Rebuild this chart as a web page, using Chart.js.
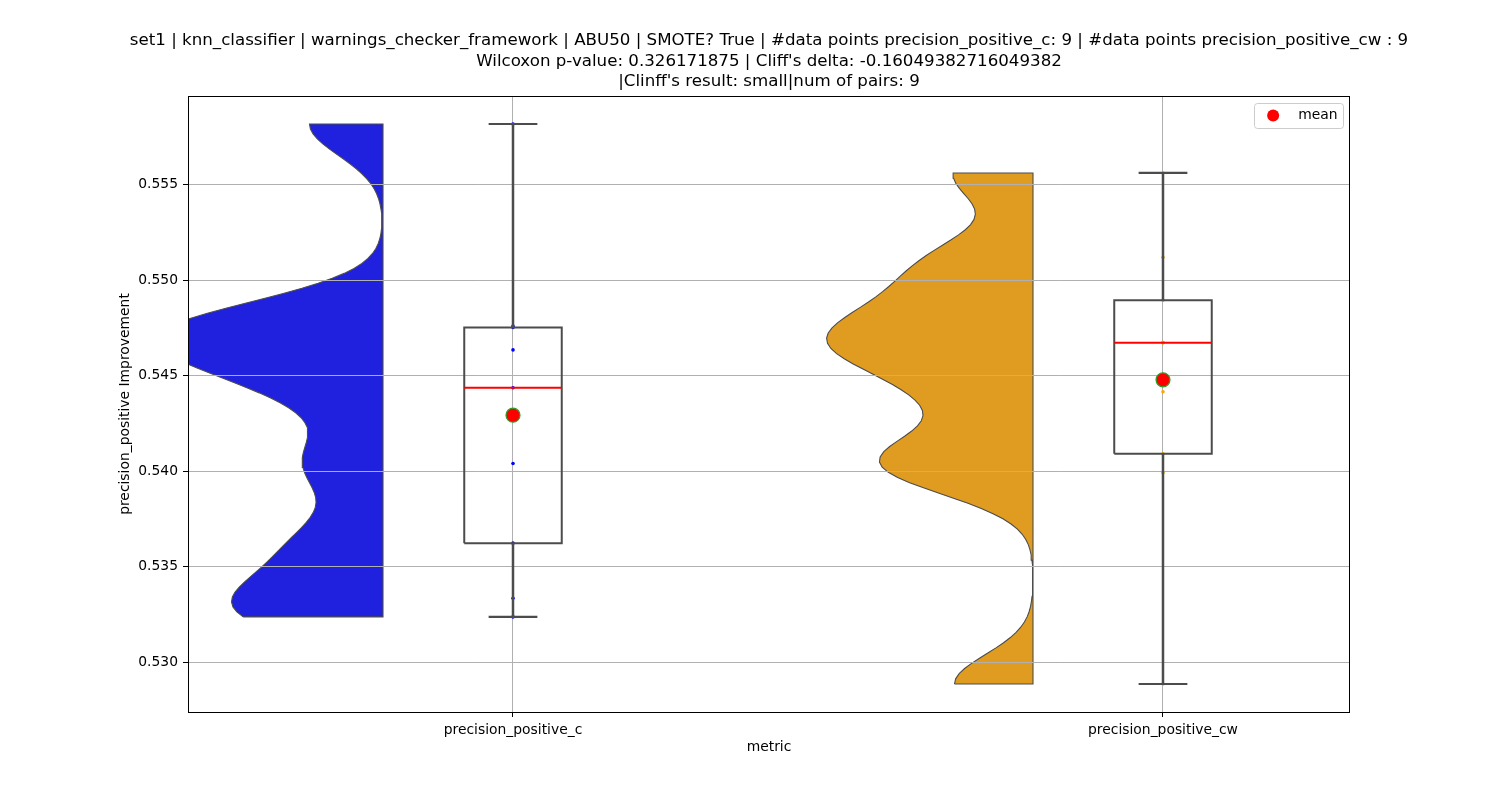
<!DOCTYPE html>
<html>
<head>
<meta charset="utf-8">
<script src="https://cdn.jsdelivr.net/npm/chart.js@4.4.1/dist/chart.umd.min.js"></script>
<style>
  html, body { margin: 0; padding: 0; background: #ffffff; }
  #wrap { width: 1500px; height: 800px; }
</style>
</head>
<body>
<div id="wrap"><canvas id="c" width="1500" height="800"></canvas></div>
<script>
// ---------------- data ----------------
const categories = ['precision_positive_c', 'precision_positive_cw'];
const valuesC  = [0.55817, 0.54760, 0.54752, 0.54635, 0.54437, 0.54041, 0.53624, 0.53336, 0.53238];
const valuesCW = [0.55561, 0.55120, 0.54895, 0.54673, 0.54673, 0.54416, 0.54092, 0.53992, 0.52887];
const yTickValues = [0.530, 0.535, 0.540, 0.545, 0.550, 0.555];
const titleLines = [
  "set1 | knn_classifier | warnings_checker_framework | ABU50 | SMOTE? True | #data points precision_positive_c: 9 | #data points precision_positive_cw : 9",
  "Wilcoxon p-value: 0.326171875 | Cliff's delta: -0.16049382716049382",
  "|Clinff's result: small|num of pairs: 9"
];
const yAxisTitle = 'precision_positive Improvement';
const xAxisTitle = 'metric';
const meanLabel = 'mean';

// ---------------- style / geometry options ----------------
const FONT = '"DejaVu Sans", "Liberation Sans", sans-serif';
const violinFill = ['#2020df', '#df9c20'];
const stripColors = ['#0000ff', '#ffa500'];
const GRAY = '#4c4c4c';
const VIOLIN_OFFSET = -0.2;
const VIOLIN_MAX = 0.35;
const KDE_BW = 0.2;
const KDE_GRID = 100;
const BOX_HALF = 0.075;
const CAP_HALF = 0.0375;

// ---------------- statistics ----------------
const series = [valuesC, valuesCW];
function quantile(sorted, p) {
  const pos = (sorted.length - 1) * p;
  const lo = Math.floor(pos), hi = Math.ceil(pos);
  return sorted[lo] + (sorted[hi] - sorted[lo]) * (pos - lo);
}
function stats(vals) {
  const s = [...vals].sort((a, b) => a - b);
  const mean = vals.reduce((a, b) => a + b, 0) / vals.length;
  return { min: s[0], max: s[s.length - 1], q1: quantile(s, 0.25), med: quantile(s, 0.5), q3: quantile(s, 0.75), mean };
}
function kde(vals) {
  const n = vals.length;
  const m = vals.reduce((a, b) => a + b, 0) / n;
  const sd = Math.sqrt(vals.reduce((a, b) => a + (b - m) * (b - m), 0) / (n - 1));
  const bw = KDE_BW * sd;
  const lo = Math.min(...vals), hi = Math.max(...vals);
  const support = [], dens = [];
  for (let k = 0; k < KDE_GRID; k++) {
    const y = lo + (hi - lo) * k / (KDE_GRID - 1);
    let d = 0;
    for (const v of vals) { const z = (y - v) / bw; d += Math.exp(-0.5 * z * z); }
    support.push(y);
    dens.push(d / (n * bw * Math.sqrt(2 * Math.PI)));
  }
  return { support, dens };
}
const st = series.map(stats);
const kdes = series.map(kde);
const maxDens = Math.max(...kdes.map(k => Math.max(...k.dens)));

// ---------------- datasets ----------------
const datasets = [];
datasets.push({
  type: 'scatter', label: meanLabel, isMean: true,
  data: st.map((s, i) => ({ x: i, y: s.mean })),
  backgroundColor: '#ff0000', borderColor: '#2ca02c', borderWidth: 1.2,
  pointRadius: 7, pointHoverRadius: 7, order: 0
});
series.forEach((vals, i) => {
  const s = st[i];
  datasets.push({
    type: 'line', label: 'median ' + i,
    data: [{ x: i - BOX_HALF, y: s.med }, { x: i + BOX_HALF, y: s.med }],
    borderColor: '#ff0000', borderWidth: 2, pointRadius: 0, fill: false, order: 1
  });
  datasets.push({
    type: 'line', label: 'box ' + i,
    data: [
      { x: i - BOX_HALF, y: s.q1 }, { x: i + BOX_HALF, y: s.q1 },
      { x: i + BOX_HALF, y: s.q3 }, { x: i - BOX_HALF, y: s.q3 },
      { x: i - BOX_HALF, y: s.q1 }
    ],
    borderColor: GRAY, borderWidth: 2, borderJoinStyle: 'miter', pointRadius: 0, fill: false, order: 2
  });
  datasets.push({
    type: 'line', label: 'whisker ' + i,
    data: [{ x: i, y: s.min }, { x: i, y: s.q1 }, { x: i, y: null }, { x: i, y: s.q3 }, { x: i, y: s.max }],
    borderColor: GRAY, borderWidth: 2.5, pointRadius: 0, fill: false, spanGaps: false, order: 3
  });
  datasets.push({
    type: 'line', label: 'caps ' + i,
    data: [{ x: i - CAP_HALF, y: s.min }, { x: i + CAP_HALF, y: s.min }, { x: i, y: null },
           { x: i - CAP_HALF, y: s.max }, { x: i + CAP_HALF, y: s.max }],
    borderColor: GRAY, borderWidth: 2.2, pointRadius: 0, fill: false, spanGaps: false, order: 3
  });
  datasets.push({
    type: 'scatter', label: 'points ' + i,
    data: vals.map(v => ({ x: i, y: v })),
    backgroundColor: stripColors[i], borderWidth: 0, pointRadius: 1.8, order: 4
  });
  const k = kdes[i];
  const edge = i + VIOLIN_OFFSET;
  const poly = k.support.map((y, j) => ({ x: edge - k.dens[j] / maxDens * VIOLIN_MAX, y }));
  poly.push({ x: edge, y: k.support[k.support.length - 1] });
  poly.push({ x: edge, y: k.support[0] });
  poly.push({ x: poly[0].x, y: poly[0].y });
  datasets.push({
    type: 'line', label: 'violin ' + i,
    data: poly, fill: 'shape', backgroundColor: violinFill[i],
    borderColor: GRAY, borderWidth: 1.1, pointRadius: 0, tension: 0,
    order: 10 - i, redrawGridAfter: i === series.length - 1
  });
});

// ---------------- plugins ----------------
const framePlugin = {
  id: 'frame',
  afterDatasetDraw(chart, args) {
    const ds = chart.data.datasets[args.index];
    if (ds && ds.redrawGridAfter) {
      chart.scales.x.drawGrid(chart.chartArea);
      chart.scales.y.drawGrid(chart.chartArea);
    }
  },
  afterDraw(chart) {
    const { ctx, chartArea: a } = chart;
    ctx.save();
    ctx.strokeStyle = '#000000';
    ctx.lineWidth = 1;
    ctx.strokeRect(Math.round(a.left) + 0.5, Math.round(a.top) + 0.5,
                   Math.round(a.right - a.left) - 1, Math.round(a.bottom - a.top));
    // legend (matplotlib style)
    const meanDs = chart.data.datasets.find(d => d.isMean);
    const fs = 13.89;
    ctx.font = fs + 'px ' + FONT;
    const tw = ctx.measureText(meanDs.label).width;
    const pad = 0.4 * fs, hl = 2 * fs, htp = 0.8 * fs, axpad = 0.5 * fs;
    const w = 2 * pad + hl + htp + tw, h = 25;
    const x0 = a.right - axpad - w, y0 = a.top + axpad;
    ctx.beginPath();
    ctx.roundRect(Math.round(x0) + 0.5, Math.round(y0) + 0.5, Math.round(w), Math.round(h), 3);
    ctx.fillStyle = 'rgba(255,255,255,0.8)';
    ctx.fill();
    ctx.strokeStyle = '#cccccc';
    ctx.stroke();
    ctx.beginPath();
    ctx.arc(x0 + pad + hl / 2, y0 + h / 2, 6, 0, 2 * Math.PI);
    ctx.fillStyle = meanDs.backgroundColor;
    ctx.fill();
    ctx.fillStyle = '#000000';
    ctx.textBaseline = 'middle';
    ctx.textAlign = 'left';
    ctx.fillText(meanDs.label, x0 + pad + hl + htp, y0 + h / 2);
    ctx.restore();
  }
};

// ---------------- chart ----------------
new Chart(document.getElementById('c'), {
  type: 'scatter',
  data: { datasets },
  plugins: [framePlugin],
  options: {
    responsive: false,
    animation: false,
    devicePixelRatio: 1,
    events: [],
    layout: { padding: { left: 38, right: 0, top: 0, bottom: 40.67 } },
    plugins: {
      legend: { display: false },
      tooltip: { enabled: false },
      title: {
        display: true, text: titleLines, color: '#000000',
        font: { family: FONT, size: 16.67, weight: 'normal', lineHeight: 1.23 },
        padding: { top: 30.75, bottom: 3.75 }
      }
    },
    scales: {
      x: {
        type: 'linear', min: -0.5, max: 1.2877,
        afterBuildTicks: s => { s.ticks = categories.map((c, i) => ({ value: i })); },
        afterFit: s => { s.height = 47.33; },
        ticks: {
          callback: v => categories[v], color: '#000000', padding: 5,
          autoSkip: false, maxRotation: 0, font: { family: FONT, size: 13.89 }
        },
        grid: { color: '#b0b0b0', lineWidth: 1, tickColor: '#000000', tickLength: 5, tickWidth: 1 },
        border: { display: false },
        title: { display: true, text: xAxisTitle, color: '#000000', padding: { top: 4, bottom: 4 },
                 font: { family: FONT, size: 13.89 } }
      },
      y: {
        type: 'linear', min: 0.527405, max: 0.559635,
        afterBuildTicks: s => { s.ticks = yTickValues.map(v => ({ value: v })); },
        afterFit: s => { s.width = 150; },
        ticks: {
          callback: v => Number(v).toFixed(3), color: '#000000', padding: 5,
          font: { family: FONT, size: 13.89 }
        },
        grid: { color: '#b0b0b0', lineWidth: 1, tickColor: '#000000', tickLength: 5, tickWidth: 1 },
        border: { display: false },
        title: { display: true, text: yAxisTitle, color: '#000000', padding: { top: 78.67, bottom: 0 },
                 font: { family: FONT, size: 13.89 } }
      },
      yRight: {
        type: 'linear', position: 'right', display: true,
        afterFit: s => { s.width = 150; },
        grid: { display: false, drawTicks: false },
        ticks: { display: false },
        border: { display: false }
      }
    }
  }
});
</script>
</body>
</html>
